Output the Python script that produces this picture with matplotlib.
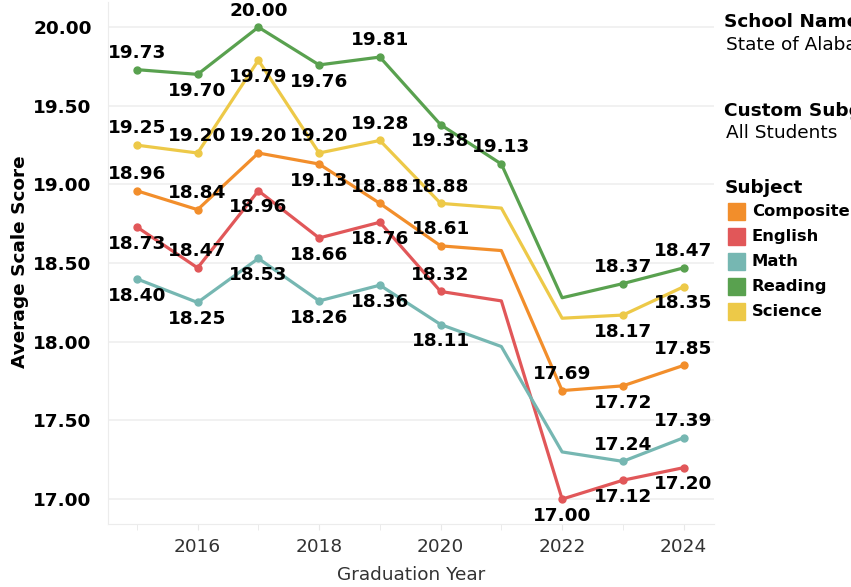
import numpy as np
import matplotlib
matplotlib.use("Agg")
import matplotlib.pyplot as plt
from matplotlib.patches import Rectangle

years = [2015, 2016, 2017, 2018, 2019, 2020, 2021, 2022, 2023, 2024]

subjects = ["Composite", "English", "Math", "Reading", "Science"]
colors = ["#F28E2B", "#E15759", "#76B7B2", "#59A14F", "#EDC948"]

composite = [18.96, 18.84, 19.20, 19.13, 18.88, 18.61, 18.58, 17.69, 17.72, 17.85]
english = [18.73, 18.47, 18.96, 18.66, 18.76, 18.32, 18.26, 17.00, 17.12, 17.20]
math_ = [18.40, 18.25, 18.53, 18.26, 18.36, 18.11, 17.97, 17.30, 17.24, 17.39]
reading = [19.73, 19.70, 20.00, 19.76, 19.81, 19.38, 19.13, 18.28, 18.37, 18.47]
science = [19.25, 19.20, 19.79, 19.20, 19.28, 18.88, 18.85, 18.15, 18.17, 18.35]
series = [composite, english, math_, reading, science]

# which points carry a label (+1 above, -1 below, 0 none)
composite_lbl = [1, 1, 1, -1, 1, 1, 0, 1, -1, 1]
english_lbl = [-1, 1, -1, -1, -1, 1, 0, -1, -1, -1]
math_lbl = [-1, -1, -1, -1, -1, -1, 0, 0, 1, 1]
reading_lbl = [1, -1, 1, -1, 1, -1, 1, 0, 1, 1]
science_lbl = [1, 1, -1, 1, 1, 1, 0, 0, -1, -1]
labels = [composite_lbl, english_lbl, math_lbl, reading_lbl, science_lbl]

FS = 13.3

fig = plt.figure(figsize=(8.51, 5.87), dpi=100)
ax = fig.add_axes([108.3 / 851, 1 - 524.3 / 587, (714 - 108.3) / 851, (524.3 - 2) / 587])

for vals, lbl, col in zip(series, labels, colors):
    ax.plot(years, vals, color=col, lw=2.3, zorder=3)
    xs = [y for y, l in zip(years, lbl) if l != 0]
    ys = [v for v, l in zip(vals, lbl) if l != 0]
    ax.plot(xs, ys, "o", color=col, ms=5, zorder=4)
    for y, v, l in zip(years, vals, lbl):
        if l == 0:
            continue
        ax.annotate(f"{v:.2f}", (y, v), xytext=(0, 12 * l), textcoords="offset points",
                    ha="center", va="center", fontsize=FS, fontweight="bold",
                    color="black", zorder=5)

ax.set_xlim(2014.53, 2024.5)
ax.set_ylim(16.84, 20.16)
ax.set_yticks([17.0, 17.5, 18.0, 18.5, 19.0, 19.5, 20.0])
ax.set_yticklabels([f"{t:.2f}" for t in ax.get_yticks()], fontsize=FS, fontweight="bold")
ax.set_xticks([2016, 2018, 2020, 2022, 2024])
ax.set_xticks([2015, 2017, 2019, 2021, 2023], minor=True)
ax.tick_params(axis="x", which="both", length=4, color="#e8e8e8", labelsize=FS,
               labelcolor="#333333", pad=6)
ax.tick_params(axis="y", length=0, pad=12)
ax.grid(axis="y", color="#efefef", lw=1.2, zorder=0)
for s in ["top", "right"]:
    ax.spines[s].set_visible(False)
for s in ["left", "bottom"]:
    ax.spines[s].set_color("#ececec")

fig.text(20 / 851, 1 - 262 / 587, "Average Scale Score", rotation=90, fontsize=FS,
         fontweight="bold", ha="center", va="center")
fig.text(411 / 851, 1 - 575 / 587, "Graduation Year", fontsize=FS, color="#333333",
         ha="center", va="center")

# legend panel
lx = 724 / 851
fig.text(lx, 1 - 22 / 587, "School Name", fontsize=FS, fontweight="bold", va="center")
fig.text(lx + 2 / 851, 1 - 45 / 587, "State of Alabama", fontsize=FS, va="center")
fig.text(lx, 1 - 111 / 587, "Custom Subgroup", fontsize=FS, fontweight="bold", va="center")
fig.text(lx + 2 / 851, 1 - 133 / 587, "All Students", fontsize=FS, va="center")
fig.text(lx + 1 / 851, 1 - 188 / 587, "Subject", fontsize=FS, fontweight="bold", va="center")
for i, (name, col) in enumerate(zip(subjects, colors)):
    cy = 211.7 + 25 * i
    fig.add_artist(Rectangle((727.7 / 851, 1 - (cy + 8.5) / 587), 17 / 851, 17 / 587,
                             transform=fig.transFigure, color=col))
    fig.text(751.7 / 851, 1 - cy / 587, name, fontsize=11.8, fontweight="bold", va="center")

fig.savefig("out.png", dpi=100)
